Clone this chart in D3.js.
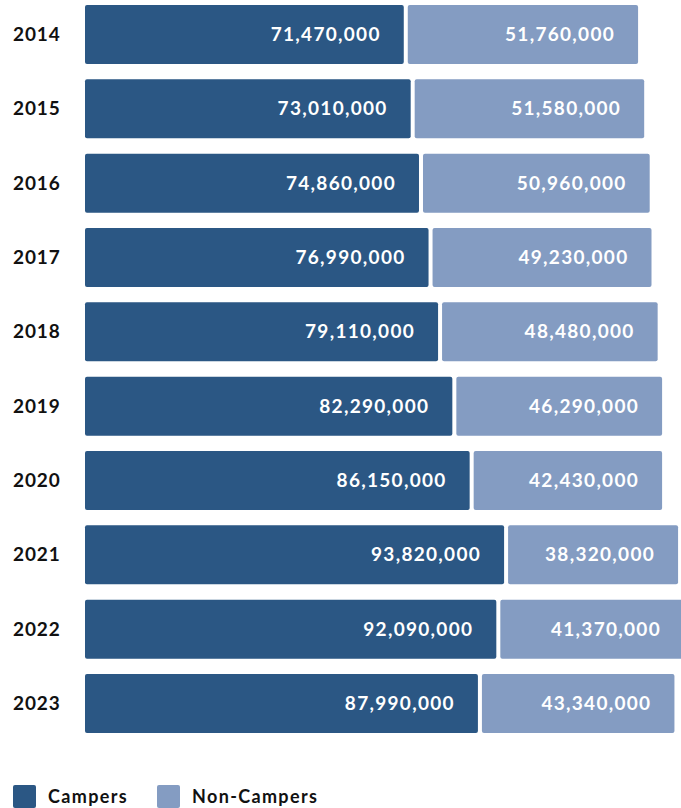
<!DOCTYPE html>
<html>
<head>
<meta charset="utf-8">
<script src="https://cdn.jsdelivr.net/npm/d3@7"></script>
<style>
  html, body { margin: 0; padding: 0; background: #ffffff; }
  svg { display: block; }
  text { font-family: "Lato", "Open Sans", sans-serif; font-weight: 700; }
</style>
</head>
<body>
<svg id="chart" width="681" height="808"></svg>
<script>
// Campers vs. non-campers by year (people)
const years = ["2014", "2015", "2016", "2017", "2018", "2019", "2020", "2021", "2022", "2023"];
const campers = [71470000, 73010000, 74860000, 76990000, 79110000, 82290000, 86150000, 93820000, 92090000, 87990000];
const nonCampers = [51760000, 51580000, 50960000, 49230000, 48480000, 46290000, 42430000, 38320000, 41370000, 43340000];
const seriesNames = ["Campers", "Non-Campers"];
const seriesColors = ["#2b5784", "#849cc2"];

const svg = d3.select("#chart");

const rows = years.map((y, i) => ({ year: y, Campers: campers[i], "Non-Campers": nonCampers[i] }));
const stacked = d3.stack().keys(seriesNames)(rows);

const x = d3.scaleLinear()
  .domain([0, d3.max(rows, d => d.Campers + d["Non-Campers"])])
  .range([85, 684]);

const y = d3.scaleBand()
  .domain(years)
  .range([5, 733])
  .paddingInner(0.206)
  .paddingOuter(0);

const fmt = d3.format(",");
const gap = 2;

stacked.forEach((layer, li) => {
  const g = svg.append("g");
  layer.forEach((d, i) => {
    const x0 = x(d[0]) + (d[0] > 0 ? gap : 0);
    const x1 = x(d[1]) - (li < stacked.length - 1 ? gap : 0);
    g.append("rect")
      .attr("x", x0)
      .attr("y", y(years[i]))
      .attr("width", x1 - x0)
      .attr("height", y.bandwidth())
      .attr("rx", 2)
      .attr("fill", seriesColors[li]);
    g.append("text")
      .attr("x", x1 - 23)
      .attr("y", y(years[i]) + y.bandwidth() / 2)
      .attr("dy", "0.35em")
      .attr("text-anchor", "end")
      .attr("fill", "#ffffff")
      .attr("font-size", 19)
      .attr("letter-spacing", 1.3)
      .text(fmt(d[1] - d[0]));
  });
});

// Year labels
svg.append("g").selectAll("text")
  .data(years)
  .join("text")
  .attr("x", 13)
  .attr("y", d => y(d) + y.bandwidth() / 2)
  .attr("dy", "0.35em")
  .attr("fill", "#111111")
  .attr("font-size", 19)
  .attr("letter-spacing", 0.9)
  .text(d => d);

// Legend
const legend = svg.append("g").attr("transform", "translate(13,785)");
const legendX = [0, 144];
seriesNames.forEach((name, i) => {
  const lg = legend.append("g").attr("transform", `translate(${legendX[i]},0)`);
  lg.append("rect").attr("width", 23).attr("height", 23).attr("rx", 2).attr("fill", seriesColors[i]);
  lg.append("text").attr("x", 35).attr("y", 12).attr("dy", "0.35em")
    .attr("fill", "#111111").attr("font-size", 18).attr("letter-spacing", 1.35)
    .text(name);
});
</script>
</body>
</html>
